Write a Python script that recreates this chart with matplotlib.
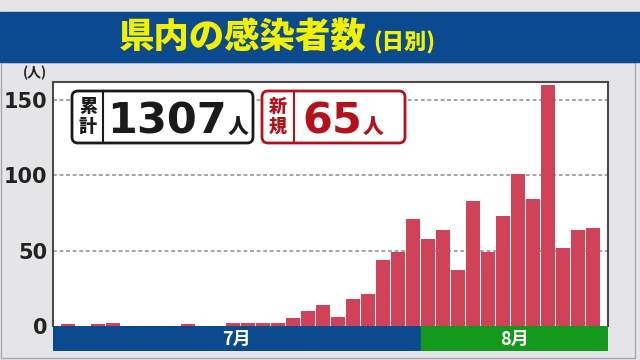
import matplotlib
matplotlib.use("Agg")
import matplotlib.pyplot as plt
from matplotlib.patches import Rectangle, FancyBboxPatch
import numpy as np

# daily new cases, 7/8 - 8/12
july_days = list(range(8, 32))
july_cases = [1, 0, 1, 2, 0, 0, 0, 0, 1, 0, 0, 2, 2, 2, 2, 5, 10, 14, 6, 18, 21, 44, 49, 71]
aug_days = list(range(1, 13))
aug_cases = [58, 64, 37, 83, 49, 73, 101, 84, 160, 52, 64, 65]

months = ["7月", "8月"]
yticks = [0, 50, 100, 150]
title = "県内の感染者数"
subtitle = "(日別)"
total = "1307"
new = "65"

cases = july_cases + aug_cases
x = np.arange(len(cases))
n_july = len(july_cases)

jp = "Noto Sans CJK JP"
bg = "#e5e5e7"
blue = "#0b4a8e"
green = "#139a1c"
bar_col = "#cf4257"
red = "#b3121d"

fig = plt.figure(figsize=(6.4, 3.6), dpi=100, facecolor=bg)

# main bar chart
ax = fig.add_axes([53/640, 1 - 326/360, 555/640, 244/360])
ax.set_facecolor("white")
ax.bar(x, cases, width=0.88, color=bar_col, zorder=3)
ax.set_xlim(-1, len(cases))
ax.set_ylim(0, 162)
ax.set_xticks([])
ax.set_yticks(yticks)
ax.set_yticklabels([str(t) for t in yticks], fontsize=15, fontweight="bold",
                   color="#222222", family="DejaVu Sans")
ax.tick_params(axis="y", length=0, pad=4)
for t in yticks[1:]:
    ax.axhline(t, color="#8a8a8a", lw=1.1, ls=(0, (2.5, 1.8)), zorder=1)
for s in ["left", "top", "right"]:
    ax.spines[s].set_color("#4a4a4a")
    ax.spines[s].set_linewidth(1.5)
ax.spines["bottom"].set_visible(False)

# month band under the bars
axm = fig.add_axes([53/640, 1 - 351/360, 555/640, 25/360])
axm.set_xlim(-1, len(cases))
axm.set_ylim(0, 1)
axm.axis("off")
axm.axvspan(-1, n_july - 0.5 - 0.06, color=blue)
axm.axvspan(n_july - 0.5 + 0.06, len(cases), color=green)
axm.text((-1 + n_july - 0.5) / 2, 0.45, months[0], ha="center", va="center",
         color="white", fontsize=13, fontweight="bold", family=jp)
axm.text((n_july - 0.5 + len(cases)) / 2, 0.45, months[1], ha="center", va="center",
         color="white", fontsize=13, fontweight="bold", family=jp)

# overlay in pixel coordinates for the decorations
ov = fig.add_axes([0, 0, 1, 1], facecolor="none")
ov.set_xlim(0, 640)
ov.set_ylim(360, 0)
ov.axis("off")

ov.add_patch(Rectangle((1, 62), 634, 296, fill=False, edgecolor="#a9a9ab", lw=1))
ov.add_patch(Rectangle((0, 12), 640, 50, color=blue))
ov.text(119, 37, title, ha="left", va="center", color="#f2f200",
        fontsize=25.5, fontweight="heavy", family=jp)
ov.text(373, 43, subtitle, ha="left", va="center", color="#f2f200",
        fontsize=16, fontweight="heavy", family=jp)
ov.text(35, 73, "(人)", ha="center", va="center", color="#222222",
        fontsize=10, fontweight="bold", family=jp)

# total box
ov.add_patch(FancyBboxPatch((72, 91), 181, 52, boxstyle="round,pad=0,rounding_size=6",
                            facecolor="white", edgecolor="#1a1a1a", lw=2, zorder=5))
ov.plot([103, 103], [92, 142], color="#1a1a1a", lw=1.5, zorder=6)
ov.text(88, 106, "累", ha="center", va="center", fontsize=13, fontweight="heavy",
        family=jp, color="#1a1a1a", zorder=6)
ov.text(88, 126, "計", ha="center", va="center", fontsize=13, fontweight="heavy",
        family=jp, color="#1a1a1a", zorder=6)
ov.text(227, 133, total, ha="right", va="baseline", fontsize=31, fontweight="bold",
        family="DejaVu Sans", color="#1a1a1a", zorder=6)
ov.text(228, 133, "人", ha="left", va="baseline", fontsize=15, fontweight="heavy",
        family=jp, color="#1a1a1a", zorder=6)

# new cases box
ov.add_patch(FancyBboxPatch((262, 91), 143, 52, boxstyle="round,pad=0,rounding_size=6",
                            facecolor="white", edgecolor=red, lw=2, zorder=5))
ov.plot([294, 294], [92, 142], color=red, lw=1.5, zorder=6)
ov.text(278, 106, "新", ha="center", va="center", fontsize=13, fontweight="heavy",
        family=jp, color=red, zorder=6)
ov.text(278, 126, "規", ha="center", va="center", fontsize=13, fontweight="heavy",
        family=jp, color=red, zorder=6)
ov.text(362, 133, new, ha="right", va="baseline", fontsize=31, fontweight="bold",
        family="DejaVu Sans", color=red, zorder=6)
ov.text(363, 133, "人", ha="left", va="baseline", fontsize=15, fontweight="heavy",
        family=jp, color=red, zorder=6)

fig.savefig("out.png", dpi=100, facecolor=bg)
